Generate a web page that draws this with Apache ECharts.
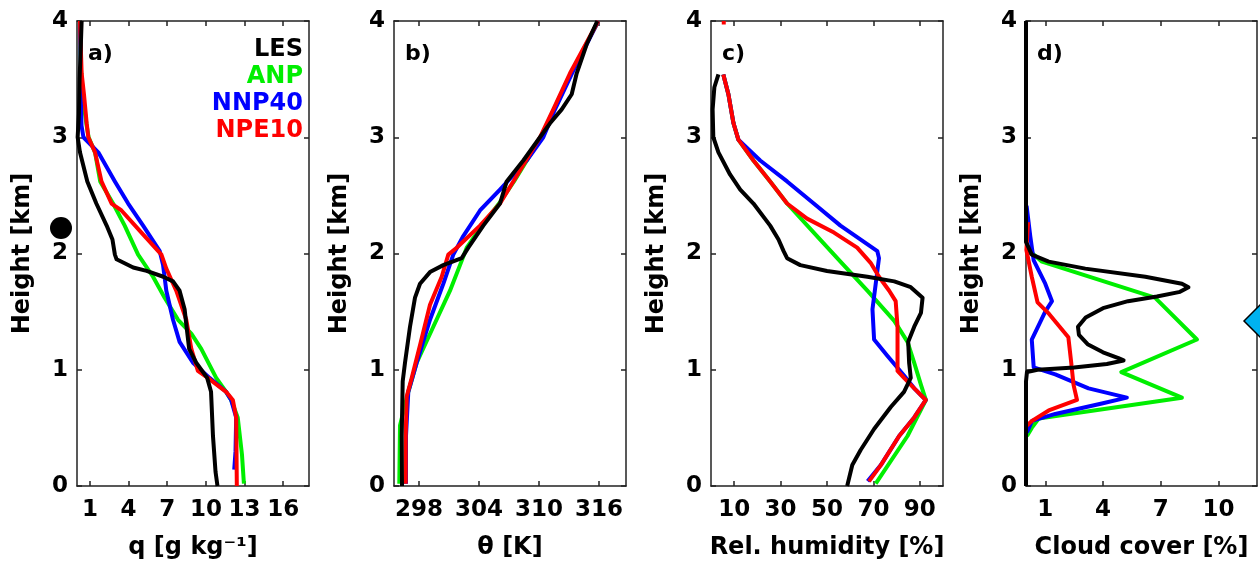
<!DOCTYPE html>
<html><head><meta charset="utf-8">
<script src="https://cdn.jsdelivr.net/npm/echarts@6/dist/echarts.min.js"></script>
<style>html,body{margin:0;padding:0;background:#fff}#c{width:1260px;height:570px}</style>
</head><body><div id="c"></div>
<script>
// ---- data: [value, height km] ----
const seriesNames = ['LES', 'ANP', 'NNP40', 'NPE10'];
const seriesColors = ['#000000', '#00ee00', '#0000ff', '#ff0000'];
const panelLetters = ['a)', 'b)', 'c)', 'd)'];
const xNames = ['q [g kg\u207B\u00B9]', '\u03B8 [K]', 'Rel. humidity [%]', 'Cloud cover [%]'];
const yName = 'Height [km]';
const yTicks = [0, 1, 2, 3, 4];
const qTicks = [1, 4, 7, 10, 13, 16];
const thetaTicks = [298, 304, 310, 316];
const rhTicks = [10, 30, 50, 70, 90];
const ccTicks = [1, 4, 7, 10];

// a) specific humidity
const les_q = [[0.36,4.0],[0.3,3.8],[0.2,3.5],[0.15,3.2],[0.05,3.0],[0.23,2.87],[0.8,2.62],[1.5,2.43],[2.3,2.24],[2.75,2.12],[2.94,1.99],[3.07,1.95],[4.36,1.88],[5.4,1.85],[6.7,1.80],[7.45,1.76],[7.96,1.68],[8.35,1.52],[8.5,1.37],[8.7,1.18],[9.25,1.06],[10.1,0.93],[10.4,0.81],[10.55,0.43],[10.75,0.12],[10.9,0]];
const anp_q = [[0.23,4.0],[0.3,3.6],[0.5,3.3],[0.75,3.1],[0.9,3.0],[1.4,2.87],[1.8,2.62],[2.8,2.43],[3.7,2.24],[4.74,1.99],[5.9,1.80],[6.8,1.62],[7.84,1.43],[8.87,1.31],[9.64,1.18],[10.8,0.93],[11.57,0.81],[11.96,0.74],[12.47,0.59],[12.8,0.27],[12.95,0.02]];
const nnp_q = [[0.23,4.0],[0.3,3.6],[0.3,3.3],[0.35,3.1],[0.5,3.0],[1.65,2.87],[2.94,2.62],[3.97,2.43],[5.13,2.24],[6.42,2.02],[6.68,1.90],[6.93,1.68],[7.45,1.43],[7.96,1.24],[9.0,1.06],[10.28,0.93],[11.57,0.81],[11.96,0.74],[12.35,0.59],[12.3,0.3],[12.2,0.14]];
const npe_q = [[0.23,4.0],[0.36,3.55],[0.54,3.37],[0.75,3.12],[0.88,3.0],[1.4,2.87],[1.9,2.62],[2.68,2.43],[3.45,2.37],[5.0,2.18],[6.55,1.99],[6.93,1.87],[7.7,1.68],[8.48,1.43],[8.87,1.18],[9.38,0.99],[10.15,0.93],[11.57,0.81],[12.09,0.74],[12.35,0.59],[12.4,0.0]];

// b) potential temperature
const les_t = [[315.83,4.0],[314.77,3.80],[313.77,3.55],[313.27,3.37],[312.27,3.24],[311.1,3.12],[310.1,3.0],[308.43,2.80],[306.77,2.62],[306.1,2.43],[304.43,2.24],[302.93,2.05],[302.27,1.96],[300.43,1.90],[299.1,1.84],[298.1,1.74],[297.6,1.62],[297.1,1.37],[296.6,1.06],[296.37,0.90],[296.27,0.43],[296.3,0]];
const anp_t = [[315.93,4.0],[313.2,3.55],[311.5,3.24],[310.2,3.0],[307.5,2.62],[306.0,2.43],[304.3,2.24],[302.77,2.05],[302.1,1.90],[301.1,1.68],[299.43,1.37],[297.77,1.06],[296.93,0.81],[296.1,0.52],[296.03,0.02]];
const nnp_t = [[315.93,4.0],[313.3,3.55],[311.6,3.24],[310.43,3.0],[308.77,2.80],[306.1,2.55],[304.1,2.37],[302.43,2.15],[301.43,1.99],[300.43,1.74],[299.1,1.43],[297.77,1.06],[296.93,0.81],[296.7,0.43],[296.7,0.02]];
const npe_t = [[315.93,4.0],[313.1,3.55],[311.43,3.24],[310.1,3.0],[307.43,2.62],[306.1,2.43],[304.1,2.24],[301.77,2.05],[300.93,1.99],[300.27,1.80],[299.1,1.56],[298.1,1.21],[297.27,0.93],[296.77,0.77],[296.67,0.43],[296.67,0.02]];

// c) relative humidity
const les_rh = [[3.2,3.54],[1.45,3.43],[0.7,3.24],[1.0,3.0],[3.2,2.87],[8.2,2.68],[12.6,2.55],[18.3,2.43],[25.5,2.24],[29.1,2.12],[31.3,2.02],[32.8,1.96],[38.5,1.90],[50,1.85],[67.4,1.80],[79,1.76],[86.1,1.71],[91.2,1.62],[90.5,1.49],[87.6,1.37],[85,1.24],[85.4,1.06],[86.1,0.93],[83.2,0.81],[77.5,0.68],[70.3,0.49],[64.5,0.31],[60.9,0.18],[58.7,0]];
const anp_rh = [[5.3,3.54],[7.5,3.37],[9.7,3.12],[11.8,2.98],[18.3,2.80],[25.5,2.62],[32.8,2.43],[44.3,2.18],[55.8,1.93],[67.4,1.68],[79,1.42],[84.7,1.24],[87.6,1.06],[90.5,0.87],[92.6,0.74],[84.7,0.43],[71,0.02]];
const nnp_rh = [[5.3,3.54],[7.5,3.37],[9.7,3.12],[11.8,2.98],[21.2,2.80],[32.8,2.62],[44.3,2.43],[55.8,2.24],[71.7,2.02],[72.4,1.96],[71,1.74],[69.6,1.52],[70.3,1.26],[76,1.12],[83.2,0.95],[87.6,0.84],[92.6,0.74],[87.6,0.59],[81.1,0.43],[73.2,0.18],[67.5,0.04]];
const npe_rh = [[5.5,4.0],[5.5,3.97],['-','-'],[5.3,3.54],[7.5,3.37],[9.7,3.12],[11.8,2.98],[18.3,2.80],[25.5,2.62],[32.8,2.43],[41.4,2.30],[53,2.18],[63,2.05],[68.8,1.92],[72.4,1.80],[76.8,1.68],[79.6,1.59],[80.4,1.37],[80.4,0.99],[83.2,0.93],[87.6,0.84],[92.6,0.74],[87.6,0.59],[81.1,0.43],[73.2,0.18],[68.1,0.04]];

// d) cloud cover
const les_cc = [[0,4.0],[0,2.1],[0.3,1.99],[1.18,1.93],[3.08,1.87],[6.2,1.80],[8.1,1.74],[8.44,1.71],[8.0,1.67],[6.8,1.63],[5.3,1.59],[4.0,1.53],[3.1,1.45],[2.7,1.37],[2.75,1.30],[3.2,1.22],[4.0,1.15],[4.8,1.10],[5.07,1.08],[4.2,1.05],[2.5,1.02],[0.6,1.0],[0.05,0.98],[0,0.9],[0,0]];
const anp_cc = [[0,2.05],[0.83,1.93],[6.7,1.62],[8.88,1.26],[4.95,0.98],[8.1,0.76],[0.66,0.58],[0.3,0.5],[0.05,0.43]];
const nnp_cc = [[0.03,2.41],[0.22,2.15],[0.4,1.94],[1.0,1.74],[1.35,1.59],[1.0,1.50],[0.3,1.26],[0.4,1.02],[1.52,0.96],[3.25,0.84],[5.24,0.76],[3.94,0.71],[1.52,0.62],[0.31,0.56],[0.05,0.46]];
const npe_cc = [[0.11,2.27],[0.02,2.03],[0.3,1.8],[0.6,1.58],[1.2,1.48],[2.2,1.28],[2.35,1.06],[2.47,0.87],[2.65,0.74],[1.18,0.65],[0.31,0.56],[0.05,0.52]];

const panelData = [
  [les_q, anp_q, nnp_q, npe_q],
  [les_t, anp_t, nnp_t, npe_t],
  [les_rh, anp_rh, nnp_rh, npe_rh],
  [les_cc, anp_cc, nnp_cc, npe_cc]
];
const xRanges = [[0, 18], [295.5, 318.7], [0, 100], [0, 12]];
const xTickSets = [qTicks, thetaTicks, rhTicks, ccTicks];

// ---- layout ----
const FONT = 'DejaVu Sans';
const gridLefts = [77, 394, 711, 1026];
const gridW = [232, 232, 232, 231];
const TOP = 21, H = 465;
const lineCol = '#222';

const grids = [], xAxes = [], yAxes = [], series = [];
for (let p = 0; p < 4; p++) {
  grids.push({left: gridLefts[p], top: TOP, width: gridW[p], height: H, containLabel: false});
  const [mn, mx] = xRanges[p];
  const ticks = xTickSets[p];
  const baseX = {
    type: 'value', gridIndex: p, min: mn, max: mx,
    axisLine: {show: true, onZero: false, lineStyle: {color: lineCol, width: 1.5}},
    axisTick: {show: true, inside: true, length: 5, customValues: ticks, lineStyle: {color: lineCol, width: 1.5}},
    splitLine: {show: false}
  };
  xAxes.push(Object.assign({}, baseX, {
    position: 'bottom',
    axisLabel: {show: true, customValues: ticks, margin: 13, fontFamily: FONT, fontWeight: 'bold', fontSize: 23, color: '#000'},
    name: xNames[p], nameLocation: 'middle', nameGap: 50,
    nameTextStyle: {fontFamily: FONT, fontWeight: 'bold', fontSize: 24, color: '#000'}
  }));
  xAxes.push(Object.assign({}, baseX, {position: 'top', axisLabel: {show: false}}));
  const baseY = {
    type: 'value', gridIndex: p, min: 0, max: 4, interval: 1,
    axisLine: {show: true, onZero: false, lineStyle: {color: lineCol, width: 1.5}},
    axisTick: {show: true, inside: true, length: 5, lineStyle: {color: lineCol, width: 1.5}},
    splitLine: {show: false}
  };
  yAxes.push(Object.assign({}, baseY, {
    position: 'left',
    axisLabel: {show: true, customValues: yTicks, margin: 9, fontFamily: FONT, fontWeight: 'bold', fontSize: 23, color: '#000'},
    name: yName, nameLocation: 'middle', nameRotate: 90, nameGap: 42,
    nameTextStyle: {fontFamily: FONT, fontWeight: 'bold', fontSize: 24, color: '#000'}
  }));
  yAxes.push(Object.assign({}, baseY, {position: 'right', axisLabel: {show: false}}));
  // draw order: ANP, NNP40, NPE10, LES on top
  [1, 2, 3, 0].forEach(s => {
    series.push({
      type: 'line', name: seriesNames[s], xAxisIndex: 2 * p, yAxisIndex: 2 * p,
      data: panelData[p][s], symbol: 'none', showSymbol: false, clip: true,
      connectNulls: false,
      lineStyle: {color: seriesColors[s], width: 4, join: 'round'},
      itemStyle: {color: seriesColors[s]}, z: 3
    });
  });
}

const graphics = [];
panelLetters.forEach((t, p) => {
  graphics.push({type: 'text', left: gridLefts[p] + 11, top: 43, z: 10,
    style: {text: t, font: 'bold 22px "' + FONT + '"', fill: '#000'}});
});
const legendY = [38, 65, 92, 119];
seriesNames.forEach((n, i) => {
  graphics.push({type: 'text', right: 1260 - 303, top: legendY[i], z: 10,
    style: {text: n, font: 'bold 24px "' + FONT + '"', fill: seriesColors[i], textAlign: 'right'}});
});
// stray marks present in the reference picture
graphics.push({type: 'circle', shape: {cx: 61, cy: 228, r: 11}, style: {fill: '#000'}, z: 20});
graphics.push({type: 'polygon', shape: {points: [[1244, 321], [1260, 305], [1276, 321], [1260, 337]]},
  style: {fill: '#00b2f0', stroke: '#000', lineWidth: 1.5}, z: 20});

const chart = echarts.init(document.getElementById('c'), null, {renderer: 'canvas'});
chart.setOption({
  animation: false,
  backgroundColor: '#fff',
  grid: grids, xAxis: xAxes, yAxis: yAxes, series: series,
  graphic: graphics
});
</script></body></html>
